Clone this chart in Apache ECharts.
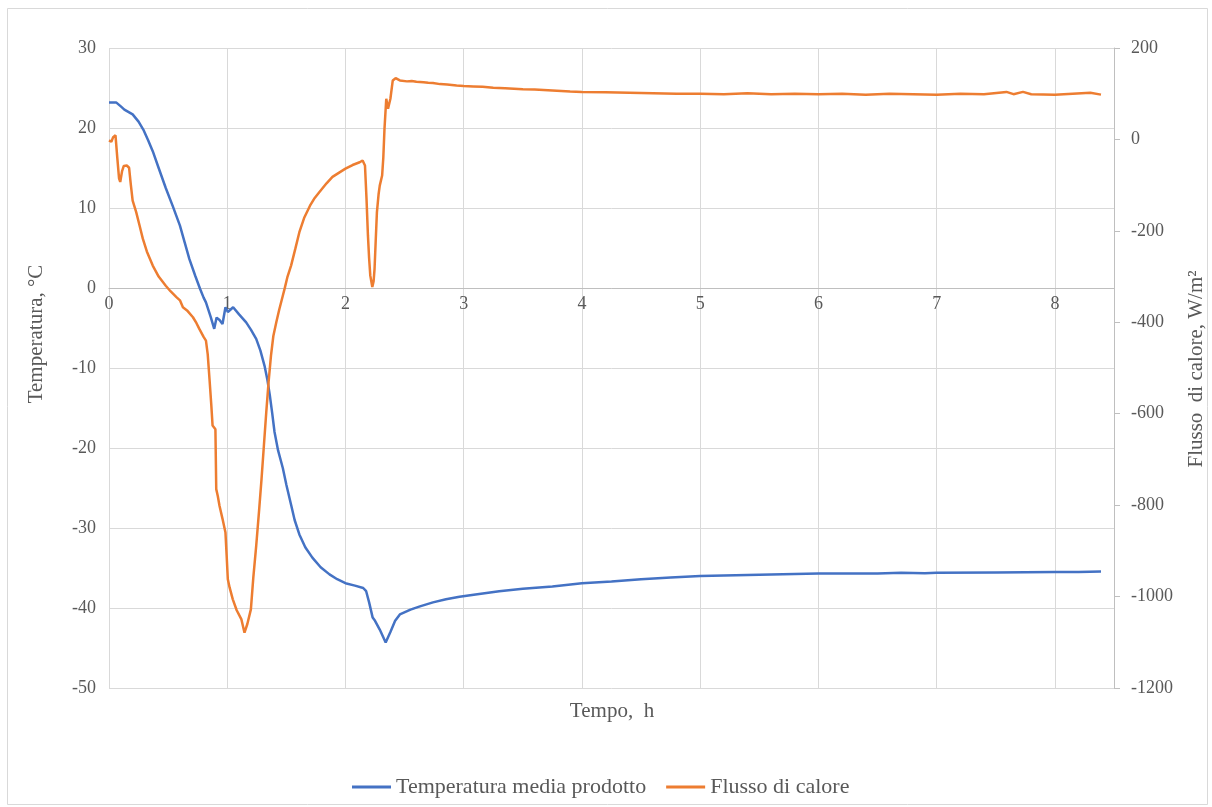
<!DOCTYPE html>
<html>
<head>
<meta charset="utf-8">
<script src="https://cdn.jsdelivr.net/npm/echarts@6/dist/echarts.min.js"></script>
<style>
html,body{margin:0;padding:0;background:#fff;}
#c{width:1212px;height:807px;}
</style>
</head>
<body>
<div id="c"></div>
<script>
// Temperatura media prodotto (°C) vs tempo (h)
const tempTime = [0,0.06,0.1,0.13,0.2,0.25,0.29,0.33,0.37,0.42,0.48,0.54,0.6,0.64,0.68,0.73,0.77,0.8,0.82,0.86,0.89,0.91,0.935,0.96,0.985,1.005,1.05,1.1,1.16,1.2,1.245,1.28,1.315,1.34,1.36,1.38,1.40,1.43,1.47,1.50,1.54,1.57,1.61,1.66,1.72,1.79,1.865,1.93,2.0,2.08,2.15,2.175,2.2,2.23,2.25,2.29,2.34,2.38,2.42,2.46,2.55,2.63,2.74,2.85,2.965,3.1,3.3,3.5,3.75,4.0,4.25,4.5,4.75,5.0,5.5,6.0,6.5,6.7,6.9,7.0,7.5,8.0,8.2,8.39];
const tempValues = [23.2,23.2,22.7,22.3,21.7,20.8,19.8,18.5,17.1,15.0,12.5,10.2,7.8,5.7,3.6,1.5,-0.1,-1.2,-1.8,-3.6,-5.1,-3.7,-4.0,-4.5,-2.4,-3.0,-2.4,-3.3,-4.3,-5.2,-6.35,-7.8,-9.7,-11.5,-13.4,-15.6,-18.0,-20.3,-22.5,-24.6,-27.1,-29.0,-30.8,-32.4,-33.7,-34.9,-35.8,-36.4,-36.9,-37.2,-37.5,-37.9,-39.3,-41.2,-41.6,-42.7,-44.3,-43.0,-41.6,-40.8,-40.2,-39.8,-39.3,-38.9,-38.6,-38.3,-37.9,-37.6,-37.3,-36.9,-36.7,-36.4,-36.2,-36.0,-35.85,-35.7,-35.7,-35.6,-35.65,-35.6,-35.55,-35.5,-35.5,-35.45];

// Flusso di calore (W/m2) vs tempo (h)
const fluxTime = [0,0.02,0.035,0.055,0.07,0.085,0.095,0.11,0.125,0.15,0.17,0.185,0.20,0.23,0.26,0.286,0.32,0.37,0.42,0.48,0.52,0.57,0.6,0.625,0.66,0.71,0.74,0.765,0.8,0.82,0.835,0.85,0.865,0.876,0.90,0.907,0.92,0.935,0.96,0.985,0.995,1.005,1.02,1.047,1.08,1.12,1.146,1.17,1.20,1.22,1.245,1.27,1.29,1.31,1.33,1.35,1.37,1.39,1.415,1.44,1.47,1.485,1.51,1.54,1.575,1.61,1.65,1.70,1.74,1.78,1.84,1.89,1.95,2.0,2.06,2.12,2.145,2.165,2.178,2.19,2.2,2.21,2.227,2.238,2.246,2.256,2.266,2.28,2.29,2.31,2.32,2.33,2.345,2.36,2.38,2.40,2.424,2.44,2.46,2.52,2.56,2.60,2.66,2.70,2.74,2.80,2.86,2.94,3.0,3.08,3.16,3.25,3.35,3.5,3.6,3.75,3.9,4.0,4.2,4.4,4.6,4.8,5.0,5.2,5.4,5.6,5.8,6.0,6.2,6.4,6.6,6.8,7.0,7.2,7.4,7.59,7.65,7.73,7.8,8.0,8.15,8.3,8.39];
const fluxValues = [-2,-5,5,9,-40,-85,-93,-70,-58,-57,-62,-100,-134,-159,-190,-217,-245,-276,-300,-320,-332,-345,-352,-367,-374,-389,-402,-415,-432,-440,-470,-524,-580,-626,-634,-765,-780,-802,-830,-860,-910,-962,-980,-1006,-1030,-1050,-1079,-1060,-1028,-960,-889,-810,-743,-670,-597,-530,-473,-430,-400,-372,-342,-327,-300,-276,-240,-203,-172,-145,-128,-115,-96,-82,-72,-64,-56,-50,-46,-57,-130,-210,-260,-298,-323,-310,-283,-220,-159,-120,-101,-79,-40,23,89,67,89,129,134,130,129,127,128,126,125,124,123.5,121,120,118,117,116,115,113,112,110,109,107,105,104,103,102,101,100,100,99,101,99,100,99,100,98,100,99,98,100,99,104,99,104,99,98,100,102,98];

const xTicks = [0,1,2,3,4,5,6,7,8];
const tempAxis = {min:-50, max:30, step:10};
const fluxAxis = {min:-1200, max:200, step:200};

const font = 'Liberation Serif';
const textColor = '#595959';
const gridTop = 48, gridHeight = 640;

const tempData = tempTime.map((t,i)=>[t,tempValues[i]]);
const fluxData = fluxTime.map((t,i)=>[t,fluxValues[i]]);

// x axis crosses the temperature axis at 0
const zeroOffset = -gridHeight * (0 - tempAxis.min) / (tempAxis.max - tempAxis.min);

const chart = echarts.init(document.getElementById('c'), null, {renderer:'canvas'});
chart.setOption({
  animation:false,
  backgroundColor:'#ffffff',
  grid:{left:109, top:gridTop, width:1005, height:gridHeight, containLabel:false},
  xAxis:{
    type:'value', min:0, max:8.5, interval:1, position:'bottom', offset:zeroOffset,
    axisLine:{show:true, onZero:false, lineStyle:{color:'#bfbfbf', width:1}},
    axisTick:{show:false},
    axisLabel:{color:textColor, fontFamily:font, fontSize:18, margin:7,
      formatter:v=> (xTicks.indexOf(v) >= 0 ? String(v) : '')},
    splitLine:{show:true, lineStyle:{color:'#d9d9d9', width:1}}
  },
  yAxis:[
    {type:'value', min:tempAxis.min, max:tempAxis.max, interval:tempAxis.step, position:'left',
     axisLine:{show:false}, axisTick:{show:false},
     axisLabel:{color:textColor, fontFamily:font, fontSize:18, margin:13, formatter:v=>String(v)},
     splitLine:{show:true, lineStyle:{color:'#d9d9d9', width:1}}},
    {type:'value', min:fluxAxis.min, max:fluxAxis.max, interval:fluxAxis.step, position:'right',
     axisLine:{show:true, onZero:false, lineStyle:{color:'#bfbfbf', width:1}},
     axisTick:{show:true, length:6, inside:false, lineStyle:{color:'#bfbfbf'}},
     axisLabel:{color:textColor, fontFamily:font, fontSize:18, margin:17, formatter:v=>String(v)},
     splitLine:{show:false}}
  ],
  legend:{
    left:352, top:776, padding:0, itemWidth:39, itemHeight:3, itemGap:20,
    icon:'rect',
    textStyle:{color:textColor, fontFamily:font, fontSize:22, padding:[0,0,0,0]},
    data:['Temperatura media prodotto','Flusso di calore']
  },
  graphic:[
    {type:'rect', shape:{x:7.5,y:8.5,width:1200,height:796}, style:{fill:'none', stroke:'#d9d9d9', lineWidth:1}, silent:true, z:-1},
    {type:'text', x:36, y:334, rotation:Math.PI/2, style:{text:'Temperatura, °C', align:'center', verticalAlign:'middle', fontSize:21, fontFamily:font, fill:textColor}},
    {type:'text', x:1196, y:369, rotation:Math.PI/2, style:{text:'Flusso  di calore, W/m²', align:'center', verticalAlign:'middle', fontSize:21, fontFamily:font, fill:textColor}},
    {type:'text', x:612, y:711, style:{text:'Tempo,  h', align:'center', verticalAlign:'middle', fontSize:21, fontFamily:font, fill:textColor}}
  ],
  series:[
    {name:'Temperatura media prodotto', type:'line', yAxisIndex:0, data:tempData, showSymbol:false, symbol:'none',
     lineStyle:{color:'#4472C4', width:2.5}, itemStyle:{color:'#4472C4'}},
    {name:'Flusso di calore', type:'line', yAxisIndex:1, data:fluxData, showSymbol:false, symbol:'none',
     lineStyle:{color:'#ED7D31', width:2.5}, itemStyle:{color:'#ED7D31'}}
  ]
});
</script>
</body>
</html>
